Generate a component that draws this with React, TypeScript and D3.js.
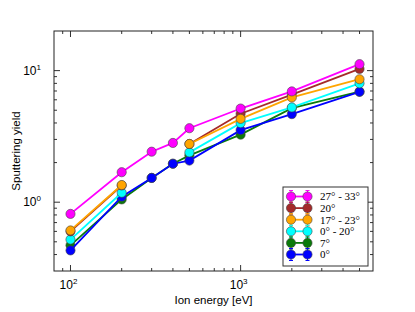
import React from "react";
import * as d3 from "d3";

const energies = [100, 200, 300, 400, 500, 1000, 2000, 5000];
const seriesNames = ["27° - 33°", "20°", "17° - 23°", "0° - 20°", "7°", "0°"];
const seriesColors = ["#ff00ff", "#a52a2a", "#ffa500", "#00ffff", "#0a7a0a", "#0000ff"];
const magentaY = [0.815, 1.69, 2.42, 2.82, 3.65, 5.15, 6.95, 11.2];
const brownY = [0.6, 1.34, null, null, 2.77, 4.7, 6.56, 10.3];
const orangeY = [0.61, 1.35, null, null, 2.77, 4.3, 6.25, 8.6];
const cyanY = [0.52, 1.18, null, null, 2.39, 3.99, 5.25, 8.0];
const greenY = [0.47, 1.05, 1.53, 1.96, 2.27, 3.26, 5.19, 6.92];
const blueY = [0.43, 1.1, 1.53, 1.96, 2.07, 3.53, 4.67, 6.9];
const seriesValues = [magentaY, brownY, orangeY, cyanY, greenY, blueY];
const drawOrder = [4, 5, 3, 1, 2, 0];
const errFrac = 0.05;

const W = 415, H = 312;
const L = 54, R = 373, T = 31, B = 271;

export default function App() {
  const x = d3.scaleLog().domain([80, 6000]).range([L, R]);
  const y = d3.scaleLog().domain([0.3, 20]).range([B, T]);

  const xMajor = [100, 1000];
  const xMinor = [90, 200, 300, 400, 500, 600, 700, 800, 900, 2000, 3000, 4000, 5000];
  const yMajor = [1, 10];
  const yMinor = [0.3, 0.4, 0.5, 0.6, 0.7, 0.8, 0.9, 2, 3, 4, 5, 6, 7, 8, 9, 20];

  const line = d3
    .line<[number, number | null]>()
    .defined((d) => d[1] != null)
    .x((d) => x(d[0]))
    .y((d) => y(d[1] as number));

  const tickColor = "#333";
  const font = "Liberation Sans, Arial, sans-serif";

  const legX = 283, legY = 187, legW = 85, legH = 79;

  return (
    <svg width={W} height={H} style={{ position: "absolute", left: 0, top: 0 }}>
      <rect x={0} y={0} width={W} height={H} fill="#fff" />
      <defs>
        <clipPath id="plotclip">
          <rect x={L} y={T} width={R - L} height={B - T} />
        </clipPath>
      </defs>
      {xMajor.map((v) => (
        <g key={"xM" + v}>
          <line x1={x(v)} x2={x(v)} y1={B} y2={B - 6} stroke={tickColor} />
          <line x1={x(v)} x2={x(v)} y1={T} y2={T + 6} stroke={tickColor} />
        </g>
      ))}
      {xMinor.filter((v) => x(v) > L + 1 && x(v) < R - 1).map((v) => (
        <g key={"xm" + v}>
          <line x1={x(v)} x2={x(v)} y1={B} y2={B - 3} stroke={tickColor} />
          <line x1={x(v)} x2={x(v)} y1={T} y2={T + 3} stroke={tickColor} />
        </g>
      ))}
      {yMajor.map((v) => (
        <g key={"yM" + v}>
          <line x1={L} x2={L + 6} y1={y(v)} y2={y(v)} stroke={tickColor} />
          <line x1={R} x2={R - 6} y1={y(v)} y2={y(v)} stroke={tickColor} />
        </g>
      ))}
      {yMinor.filter((v) => y(v) > T + 1 && y(v) < B - 1).map((v) => (
        <g key={"ym" + v}>
          <line x1={L} x2={L + 3} y1={y(v)} y2={y(v)} stroke={tickColor} />
          <line x1={R} x2={R - 3} y1={y(v)} y2={y(v)} stroke={tickColor} />
        </g>
      ))}
      {xMajor.map((v) => (
        <text key={"xl" + v} x={x(v) - 2} y={B + 18} textAnchor="middle" fontFamily={font} fontSize={12} fill="#000">
          10<tspan dy={-5} fontSize={8}>{Math.round(Math.log10(v))}</tspan>
        </text>
      ))}
      {yMajor.map((v) => (
        <text key={"yl" + v} x={L - 13} y={y(v) + 4} textAnchor="end" fontFamily={font} fontSize={12} fill="#000">
          10<tspan dy={-5} fontSize={8}>{Math.round(Math.log10(v))}</tspan>
        </text>
      ))}
      <text x={(L + R) / 2} y={304} textAnchor="middle" fontFamily={font} fontSize={11.5} fill="#000">
        Ion energy [eV]
      </text>
      <text transform={`translate(20,${(T + B) / 2}) rotate(-90)`} textAnchor="middle" fontFamily={font} fontSize={11.5} fill="#000">
        Sputtering yield
      </text>
      <g clipPath="url(#plotclip)">
        {drawOrder.map((si) => {
          const vals = seriesValues[si];
          const pts = energies.map((e, i) => [e, vals[i]] as [number, number | null]);
          const col = seriesColors[si];
          return (
            <g key={"s" + si}>
              <path d={line(pts) || ""} fill="none" stroke={col} strokeWidth={1.8} />
              {pts.filter((p) => p[1] != null).map((p, i) => {
                const v = p[1] as number;
                const cx = x(p[0]);
                const y1 = y(v * (1 + errFrac));
                const y2 = y(v * (1 - errFrac));
                return (
                  <g key={i}>
                    <line x1={cx} x2={cx} y1={y1} y2={y2} stroke={col} strokeWidth={1} />
                    <line x1={cx - 2} x2={cx + 2} y1={y1} y2={y1} stroke={col} strokeWidth={1} />
                    <line x1={cx - 2} x2={cx + 2} y1={y2} y2={y2} stroke={col} strokeWidth={1} />
                    <circle cx={cx} cy={y(v)} r={4.6} fill={col} stroke="#444" strokeWidth={0.6} />
                  </g>
                );
              })}
            </g>
          );
        })}
      </g>
      <rect x={L} y={T} width={R - L} height={B - T} fill="none" stroke="#222" strokeWidth={1} />
      <rect x={legX} y={legY} width={legW} height={legH} fill="#fff" stroke="#333" strokeWidth={1} />
      {seriesNames.map((name, i) => {
        const ry = legY + 9.5 + i * 11.6;
        const col = seriesColors[i];
        const x1 = legX + 8, x2 = legX + 24.5;
        return (
          <g key={"lg" + i}>
            <line x1={x1} x2={x2} y1={ry} y2={ry} stroke={col} strokeWidth={1.8} />
            {[x1, x2].map((cx, k) => (
              <g key={k}>
                <line x1={cx} x2={cx} y1={ry - 6} y2={ry + 6} stroke={col} strokeWidth={1} />
                <line x1={cx - 2} x2={cx + 2} y1={ry - 6} y2={ry - 6} stroke={col} strokeWidth={1} />
                <line x1={cx - 2} x2={cx + 2} y1={ry + 6} y2={ry + 6} stroke={col} strokeWidth={1} />
                <circle cx={cx} cy={ry} r={4.6} fill={col} stroke="#444" strokeWidth={0.6} />
              </g>
            ))}
            <text x={legX + 37} y={ry + 3.8} fontFamily="Liberation Serif, DejaVu Serif, serif" fontSize={11} fill="#000">
              {name}
            </text>
          </g>
        );
      })}
    </svg>
  );
}
